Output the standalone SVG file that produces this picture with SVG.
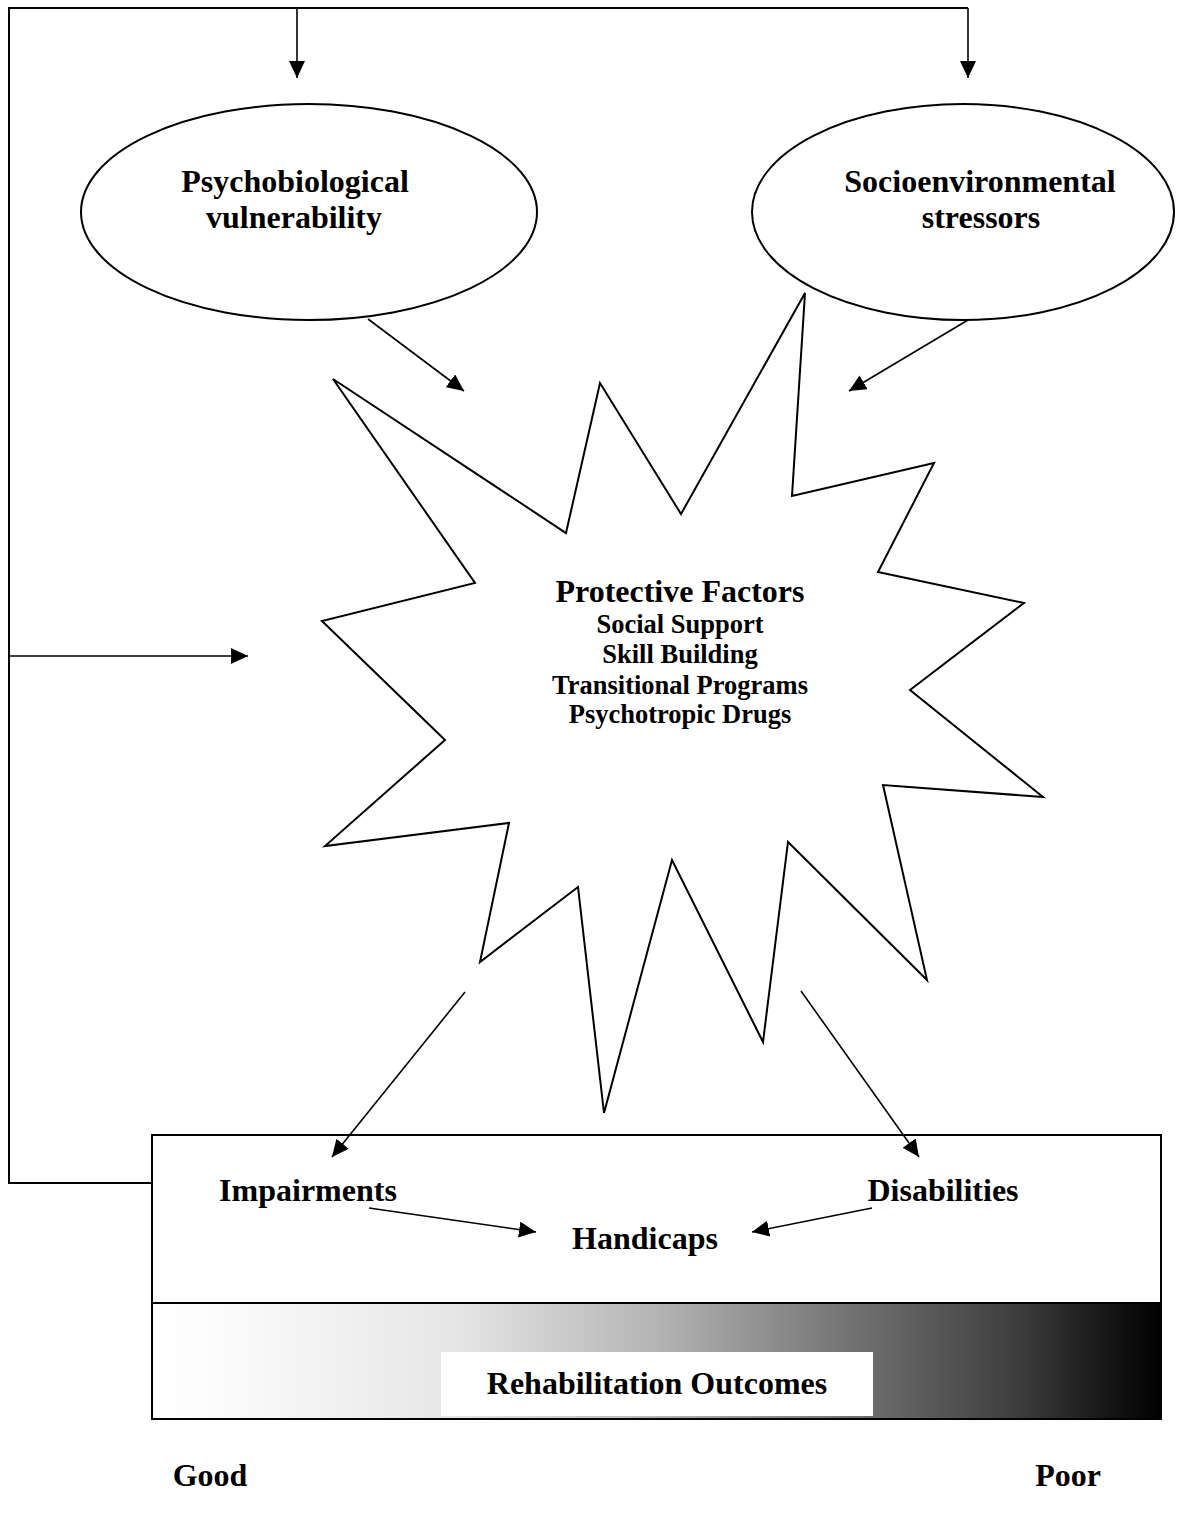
<svg xmlns="http://www.w3.org/2000/svg" width="1185" height="1520" viewBox="0 0 1185 1520">
<style>
.t{font-family:"Liberation Serif","Times New Roman",serif;font-weight:bold;fill:#000;text-anchor:middle}
.big{font-size:32px}
.sub{font-size:26.5px}
.ln{fill:none;stroke:#000;stroke-width:2}
.ar{fill:none;stroke:#000;stroke-width:1.6;marker-end:url(#ah)}
.shape{fill:#fff;stroke:#000;stroke-width:2}
</style>
<defs>
<marker id="ah" markerUnits="userSpaceOnUse" markerWidth="18" markerHeight="16" refX="17" refY="8" orient="auto">
<path d="M0,0 L17,8 L0,16 Z" fill="#000"/>
</marker>
<linearGradient id="grad" x1="0" y1="0" x2="1" y2="0">
<stop offset="0" stop-color="#ffffff"/>
<stop offset="0.06" stop-color="#fcfcfc"/>
<stop offset="0.3" stop-color="#e6e6e6"/>
<stop offset="0.5" stop-color="#b4b4b4"/>
<stop offset="0.7" stop-color="#707070"/>
<stop offset="0.85" stop-color="#404040"/>
<stop offset="1" stop-color="#000000"/>
</linearGradient>
</defs>

<g id="psychobiological">
<ellipse class="shape" cx="309" cy="212" rx="228" ry="108"/>
<text class="t big" x="295" y="192">Psychobiological</text>
<text class="t big" x="294" y="228">vulnerability</text>
</g>

<g id="socioenvironmental">
<ellipse class="shape" cx="963" cy="212" rx="211" ry="108"/>
<text class="t big" x="980" y="192">Socioenvironmental</text>
<text class="t big" x="981" y="228">stressors</text>
</g>

<g id="protective-factors">
<polygon class="shape" points="333,379 566,533 600,383 681,514 805,293 792,496 934,463 878,572 1024,603 910,690 1043,797 883,785 927,980 788,842 763,1042 672,860 604,1113 578,887 480,962 509,823 325,846 445,740 322,621 475,583"/>
<text class="t big" x="680" y="602">Protective Factors</text>
<text class="t sub" x="680" y="633">Social Support</text>
<text class="t sub" x="680" y="663">Skill Building</text>
<text class="t sub" x="680" y="694">Transitional Programs</text>
<text class="t sub" x="680" y="723">Psychotropic Drugs</text>
</g>

<g id="outcome-box">
<rect x="152" y="1135" width="1009" height="168" fill="#fff" stroke="#000" stroke-width="2"/>
<rect x="152" y="1303" width="1009" height="116" fill="url(#grad)" stroke="#000" stroke-width="2"/>
</g>

<g id="impairments"><text class="t big" x="308" y="1201">Impairments</text></g>
<g id="disabilities"><text class="t big" x="943" y="1201">Disabilities</text></g>
<g id="handicaps"><text class="t big" x="645" y="1249">Handicaps</text></g>

<g id="rehabilitation-outcomes">
<rect x="441" y="1352" width="432" height="64" fill="#fff"/>
<text class="t big" x="657" y="1394">Rehabilitation Outcomes</text>
</g>

<g id="good"><text class="t big" x="210" y="1486">Good</text></g>
<g id="poor"><text class="t big" x="1068" y="1486">Poor</text></g>

<g id="connectors">
<path class="ln" d="M152,1183 H9 V8 H968"/>
<path class="ar" d="M297,8 V78"/>
<path class="ar" d="M968,8 V78"/>
<path class="ar" d="M9,656 H248"/>
<path class="ar" d="M368,319 L464,391"/>
<path class="ar" d="M968,320 L849,391"/>
<path class="ar" d="M465,992 L332,1157"/>
<path class="ar" d="M801,991 L919,1157"/>
<path class="ar" d="M369,1208 L536,1232"/>
<path class="ar" d="M872,1208 L752,1232"/>
</g>
</svg>
